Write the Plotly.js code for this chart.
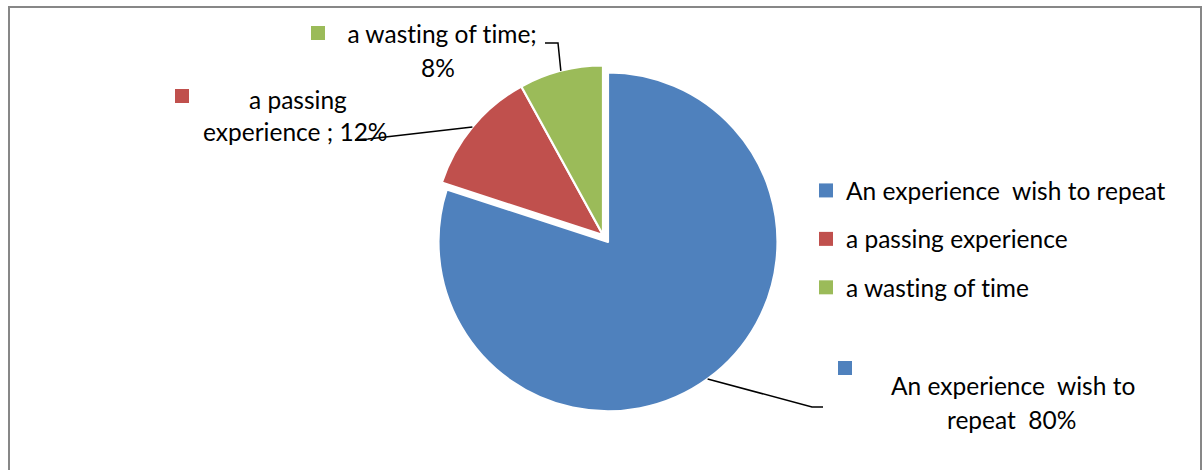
<!DOCTYPE html>
<html>
<head>
<meta charset="utf-8">
<script src="https://cdn.plot.ly/plotly-3.0.1.min.js"></script>
<style>
  html, body { margin: 0; padding: 0; background: #fff; }
  #chart { width: 1204px; height: 470px; }
  #chart svg text, #chart svg tspan {
    font-variant-ligatures: none !important;
    font-feature-settings: "liga" 0, "clig" 0, "dlig" 0, "calt" 0 !important;
  }
</style>
</head>
<body>
<div id="chart"></div>
<script>
// ---- data ----
const categories = ['An experience\u00a0 wish to repeat', 'a passing experience', 'a wasting of time'];
const shares = [80, 12, 8];
const sliceColors = ['#4F81BD', '#C0504D', '#9BBB59'];
// text placed between category name and percentage in each data label
const labelSeparators = ['\u00a0 ', ' ; ', '; '];
// number of words on the first line of each data label
const labelBreakAfter = [4, 2, 4];
const slicePull = [0.05, 0, 0];

// ---- layout constants (pixels) ----
const W = 1204, H = 470;
const FONT = 'Lato, "Open Sans", sans-serif';
const FONT_SIZE = 24.5;
const pieCenter = [603, 235];
const pieHalf = 178;                       // half of the domain's height
const labelLayout = [
  { lines: [[1013, 385], [1011, 419]], key: [845, 368], leader: [[812, 407], [823, 407]] },
  { lines: [[298, 99], [295, 132]],    key: [182, 96],  leader: [[368, 139], [355, 140]] },
  { lines: [[442, 33], [438, 67]],     key: [318, 33],  leader: [[558, 43], [545, 43]] }
];
const KEY = 14;

const px = x => x / W;
const py = y => 1 - y / H;

const total = shares.reduce((a, b) => a + b, 0);
const maxPull = Math.max(...slicePull);
const radius = pieHalf / (1 + maxPull);

const traces = [{
  type: 'pie',
  labels: categories,
  values: shares,
  sort: false,
  direction: 'clockwise',
  rotation: 0,
  pull: slicePull,
  marker: { colors: sliceColors, line: { color: '#ffffff', width: 2.2 } },
  textinfo: 'none',
  hoverinfo: 'label+percent',
  showlegend: false,
  domain: { x: [px(pieCenter[0] - 260), px(pieCenter[0] + 260)],
            y: [py(pieCenter[1] + pieHalf), py(pieCenter[1] - pieHalf)] }
}];

// legend entries (one per category, spaced as groups)
categories.forEach((c, i) => {
  traces.push({
    type: 'scatter', mode: 'markers', x: [null], y: [null],
    name: c, legendgroup: 'g' + i, showlegend: true,
    marker: { symbol: 'square', size: KEY, color: sliceColors[i] },
    hoverinfo: 'skip'
  });
});

const shapes = [];
const annotations = [];

// chart frame
shapes.push({
  type: 'path', xref: 'paper', yref: 'paper',
  path: `M ${px(9)},${py(H + 5)} L ${px(9)},${py(7)} L ${px(1201)},${py(7)} L ${px(1201)},${py(H + 5)}`,
  line: { color: '#878787', width: 2 }
});

// data labels with leader lines
let cum = 0;
shares.forEach((v, i) => {
  const mid = (cum + v / 2) / total;
  cum += v;
  const theta = 2 * Math.PI * mid;
  const rr = radius * (1 + slicePull[i]);
  const ax = pieCenter[0] + rr * Math.sin(theta);
  const ay = pieCenter[1] - rr * Math.cos(theta);
  const L = labelLayout[i];

  const pct = Math.round(v / total * 100) + '%';
  const words = (categories[i] + labelSeparators[i] + pct).split(' ');
  const lines = [words.slice(0, labelBreakAfter[i]).join(' '), words.slice(labelBreakAfter[i]).join(' ')];

  lines.forEach((t, k) => {
    annotations.push({
      xref: 'paper', yref: 'paper', x: px(L.lines[k][0]), y: py(L.lines[k][1]),
      xanchor: 'center', yanchor: 'middle', showarrow: false, text: t,
      font: { family: FONT, size: FONT_SIZE, color: '#000' }
    });
  });

  shapes.push({
    type: 'rect', xref: 'paper', yref: 'paper',
    x0: px(L.key[0] - KEY / 2), x1: px(L.key[0] + KEY / 2),
    y0: py(L.key[1] + KEY / 2), y1: py(L.key[1] - KEY / 2),
    fillcolor: sliceColors[i], line: { width: 0 }
  });

  shapes.push({
    type: 'path', xref: 'paper', yref: 'paper',
    path: `M ${px(ax)},${py(ay)} L ${px(L.leader[0][0])},${py(L.leader[0][1])} L ${px(L.leader[1][0])},${py(L.leader[1][1])}`,
    line: { color: '#000', width: 1.5 }
  });
});

const layout = {
  width: W, height: H,
  margin: { l: 0, r: 0, t: 0, b: 0 },
  paper_bgcolor: '#fff', plot_bgcolor: '#fff',
  font: { family: FONT, size: FONT_SIZE, color: '#000' },
  xaxis: { visible: false, domain: [0.9, 1] },
  yaxis: { visible: false },
  showlegend: true,
  legend: {
    x: px(806), y: py(168), xanchor: 'left', yanchor: 'top',
    traceorder: 'grouped', tracegroupgap: 13.6,
    bgcolor: 'rgba(0,0,0,0)', borderwidth: 0,
    font: { family: FONT, size: FONT_SIZE, color: '#000' }
  },
  shapes: shapes,
  annotations: annotations
};

Plotly.newPlot('chart', traces, layout, { displayModeBar: false, staticPlot: true });
</script>
</body>
</html>
